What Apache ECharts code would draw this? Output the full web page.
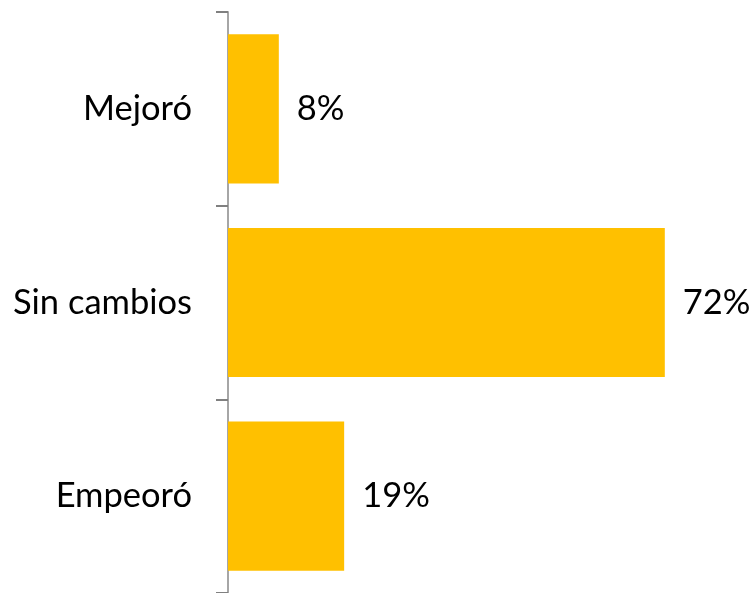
<!DOCTYPE html>
<html><head><meta charset="utf-8">
<script src="https://cdn.jsdelivr.net/npm/echarts@6/dist/echarts.min.js"></script>
<style>html,body{margin:0;padding:0;background:#fff}#c{width:750px;height:593px}</style>
</head><body><div id="c"></div>
<script>
const categories = ['Mejoró', 'Sin cambios', 'Empeoró'];
const values = [8.4, 72.2, 19.2];

const chart = echarts.init(document.getElementById('c'), null, {renderer: 'canvas'});
chart.setOption({
  animation: false,
  grid: {left: 228, top: 12, width: 484, height: 585, containLabel: false},
  xAxis: {type: 'value', min: 0, max: 80, show: false},
  yAxis: {
    type: 'category', data: categories, inverse: true,
    axisLine: {show: true, lineStyle: {color: '#A6A6A6', width: 2}},
    axisTick: {show: true, length: 12, lineStyle: {color: '#808080', width: 2}},
    axisLabel: {margin: 36, color: '#000', fontFamily: 'Lato', fontSize: 34.5}
  },
  series: [{
    type: 'bar', data: values, barCategoryGap: '23%',
    itemStyle: {color: '#FFC000'},
    label: {show: true, position: 'right', distance: 18, color: '#000', fontFamily: 'Lato', fontSize: 34.5,
      formatter: p => Math.round(p.value) + '%'}
  }]
});
</script></body></html>
